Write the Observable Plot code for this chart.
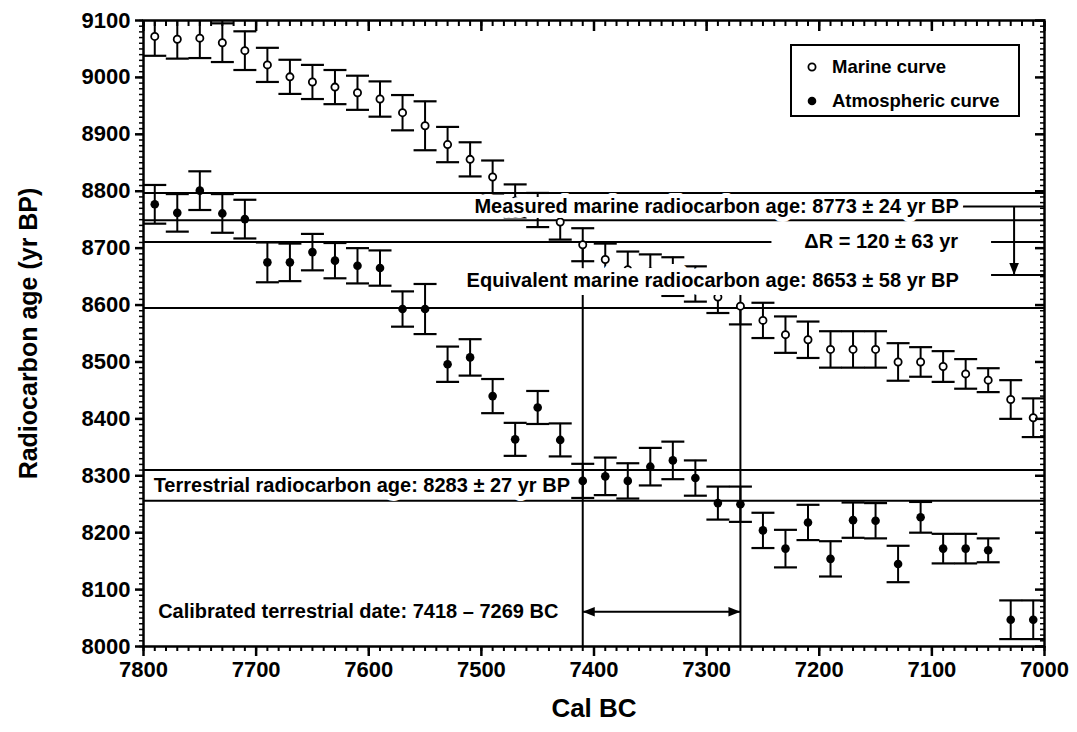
<!DOCTYPE html>
<html><head><meta charset="utf-8">
<script src="https://cdn.jsdelivr.net/npm/d3@7"></script>
<script src="https://cdn.jsdelivr.net/npm/@observablehq/plot@0.6"></script>
<style>
body{margin:0;background:#fff;}
#wrap{position:relative;width:1077px;height:732px;font-family:"Liberation Sans",Arial,Helvetica,sans-serif;}
#legend{position:absolute;left:790px;top:44px;width:230px;height:73px;border:2px solid #000;box-sizing:border-box;background:#fff;font-weight:bold;font-size:18.5px;color:#000;}
#legend .row{position:absolute;left:14px;display:flex;align-items:center;line-height:20px;}
#legend svg{margin-right:14px;}
</style></head><body><div id="wrap"></div>
<script>
// Data: calibrated years (Cal BC) of the curve points
const years = [7790,7770,7750,7730,7710,7690,7670,7650,7630,7610,7590,7570,7550,7530,7510,7490,7470,7450,7430,7410,7390,7370,7350,7330,7310,7290,7270,7250,7230,7210,7190,7170,7150,7130,7110,7090,7070,7050,7030,7010];
const marine = [9072,9067,9069,9061,9047,9022,9001,8992,8983,8973,8962,8938,8915,8882,8856,8825,8783,8767,8746,8706,8680,8662,8658,8650,8637,8614,8598,8573,8548,8539,8522,8522,8522,8500,8500,8492,8479,8468,8434,8402];
const marineErr = [34,34,35,34,34,30,30,30,30,30,31,31,43,31,30,29,29,30,31,29,28,32,31,34,31,28,32,31,32,32,32,32,32,33,26,27,26,21,34,34];
const atmos = [8777,8762,8801,8761,8751,8675,8675,8693,8678,8669,8665,8593,8593,8496,8508,8440,8364,8420,8363,8291,8299,8291,8316,8327,8296,8252,8250,8204,8172,8218,8154,8222,8221,8145,8227,8172,8172,8169,8047,8047];
const atmosErr = [34,33,34,34,34,35,33,32,31,31,31,31,44,31,32,30,29,29,29,30,33,31,33,33,31,29,31,31,33,31,31,31,31,32,27,26,26,21,34,34];

const xTicks = [7800,7700,7600,7500,7400,7300,7200,7100,7000];
const yTicks = [8000,8100,8200,8300,8400,8500,8600,8700,8800,8900,9000,9100];
const xMinor = d3.range(7000, 7801, 10);
const yMinor = d3.range(8000, 9101, 10);

// Annotation values
const fullLines = [8797, 8749, 8595, 8310, 8256];
const partialLines = [
  {y: 8711, x1: 7800, x2: 7242},
  {y: 8711, x1: 7047, x2: 7000},
  {y: 8773, x1: 7072, x2: 7000},
  {y: 8653, x1: 7047, x2: 7000}
];
const calLines = [{x: 7410, top: 8711}, {x: 7270, top: 8595}];
const calArrow = {x1: 7410, x2: 7270, y: 8061};
const deltaArrow = {x: 7027, y1: 8773, y2: 8653};
const labelMeasured = [{x: 7076, y: 8773, text: "Measured marine radiocarbon age: 8773 \u00b1 24 yr BP"}];
const labelEquivalent = [{x: 7076, y: 8643, text: "Equivalent marine radiocarbon age: 8653 \u00b1 58 yr BP"}];
const labelsMiddle = [{x: 7145, y: 8711, text: "\u0394R = 120 \u00b1 63 yr"}];
const labelsStart = [
  {x: 7791, y: 8283, text: "Terrestrial radiocarbon age: 8283 \u00b1 27 yr BP"},
  {x: 7787, y: 8061, text: "Calibrated terrestrial date: 7418 \u2013 7269 BC"}
];

const marineData = years.map((x, i) => ({x, y: marine[i], lo: marine[i] - marineErr[i], hi: marine[i] + marineErr[i]}));
const atmosData = years.map((x, i) => ({x, y: atmos[i], lo: atmos[i] - atmosErr[i], hi: atmos[i] + atmosErr[i]}));

const cap = {draw(ctx, size) { const r = Math.sqrt(size / Math.PI); ctx.moveTo(-r, 0); ctx.lineTo(r, 0); }};
const head = {draw(ctx, size) { const r = Math.sqrt(size / Math.PI); ctx.moveTo(0, 0); ctx.lineTo(-2 * r, -0.8 * r); ctx.lineTo(-2 * r, 0.8 * r); ctx.closePath(); }};

function errMarks(data) {
  return [
    Plot.ruleX(data, {x: "x", y1: "lo", y2: "hi", stroke: "black", strokeWidth: 2, clip: true}),
    Plot.dot(data, {x: "x", y: "hi", symbol: cap, r: 11.5, stroke: "black", fill: "none", strokeWidth: 2.2, clip: true}),
    Plot.dot(data, {x: "x", y: "lo", symbol: cap, r: 11.5, stroke: "black", fill: "none", strokeWidth: 2.2, clip: true})
  ];
}

const textOpts = {x: "x", y: "y", text: "text", fontSize: 20, fontWeight: "bold", fill: "black", stroke: "white", strokeWidth: 10};

const chart = Plot.plot({
  width: 1077,
  height: 732,
  marginLeft: 143,
  marginRight: 33,
  marginTop: 20,
  marginBottom: 86,
  x: {domain: [7800, 7000]},
  y: {domain: [8000, 9100]},
  style: {fontFamily: '"Liberation Sans", Arial, Helvetica, sans-serif', fontWeight: "bold", color: "black", background: "white"},
  marks: [
    // reference lines
    Plot.ruleY(fullLines, {stroke: "black", strokeWidth: 2}),
    Plot.ruleY(partialLines, {y: "y", x1: "x1", x2: "x2", stroke: "black", strokeWidth: 2}),
    Plot.ruleX(calLines, {x: "x", y1: 8000, y2: "top", stroke: "black", strokeWidth: 2}),
    // data
    ...errMarks(marineData),
    ...errMarks(atmosData),
    Plot.dot(marineData, {x: "x", y: "y", r: 3.6, fill: "white", stroke: "black", strokeWidth: 1.8}),
    Plot.dot(atmosData, {x: "x", y: "y", r: 4.3, fill: "black", stroke: "none"}),
    // annotation text with white box
    Plot.text(labelMeasured, {...textOpts, textAnchor: "end"}),
    Plot.text(labelEquivalent, {...textOpts, textAnchor: "end", strokeWidth: 16}),
    Plot.text(labelsMiddle, {...textOpts, textAnchor: "middle"}),
    Plot.text(labelsStart, {...textOpts, textAnchor: "start"}),
    // calibrated date arrow
    Plot.link([calArrow], {x1: "x1", x2: "x2", y1: "y", y2: "y", stroke: "black", strokeWidth: 2}),
    Plot.dot([calArrow], {x: "x2", y: "y", symbol: head, r: 6, fill: "black", stroke: "none", rotate: 0}),
    Plot.dot([calArrow], {x: "x1", y: "y", symbol: head, r: 6, fill: "black", stroke: "none", rotate: 180}),
    // delta R arrow
    Plot.link([deltaArrow], {x1: "x", x2: "x", y1: "y1", y2: "y2", stroke: "black", strokeWidth: 2}),
    Plot.dot([deltaArrow], {x: "x", y: "y2", symbol: head, r: 6, fill: "black", stroke: "none", rotate: 90}),
    // axes
    Plot.axisX(xMinor, {anchor: "bottom", tickSize: 5, text: null, strokeWidth: 2, label: null}),
    Plot.axisX(xTicks, {anchor: "bottom", tickSize: 10, strokeWidth: 2.5, fontSize: 22, fontWeight: "bold", tickPadding: 5, label: null, tickFormat: d => String(d)}),
    Plot.axisX(xMinor, {anchor: "top", tickSize: -5, text: null, strokeWidth: 2, label: null}),
    Plot.axisX(xTicks, {anchor: "top", tickSize: -10, text: null, strokeWidth: 2.5, label: null}),
    Plot.axisY(yMinor, {anchor: "left", tickSize: 4, text: null, strokeWidth: 1.5, label: null}),
    Plot.axisY(yTicks, {anchor: "left", tickSize: 8, strokeWidth: 2.5, fontSize: 22, fontWeight: "bold", tickPadding: 5, label: null, tickFormat: d => String(d)}),
    Plot.axisY(yMinor, {anchor: "right", tickSize: -5, text: null, strokeWidth: 1.5, label: null}),
    Plot.axisY(yTicks, {anchor: "right", tickSize: -10, text: null, strokeWidth: 2.5, label: null}),
    Plot.frame({stroke: "black", strokeWidth: 2.5}),
    // axis titles
    Plot.text(["Cal BC"], {frameAnchor: "bottom", textAnchor: "middle", dy: 70, fontSize: 26, fontWeight: "bold", fill: "black"}),
    Plot.text(["Radiocarbon age (yr BP)"], {frameAnchor: "left", textAnchor: "middle", dx: -115, rotate: -90, fontSize: 25, fontWeight: "bold", fill: "black"})
  ]
});

const wrap = document.getElementById("wrap");
wrap.appendChild(chart);
const legend = document.createElement("div");
legend.id = "legend";
legend.innerHTML = `
<div class="row" style="top:11px"><svg width="12" height="12"><circle cx="6" cy="6" r="3.6" fill="white" stroke="black" stroke-width="1.8"/></svg><span>Marine curve</span></div>
<div class="row" style="top:45px"><svg width="12" height="12"><circle cx="6" cy="6" r="4.3" fill="black"/></svg><span>Atmospheric curve</span></div>`;
wrap.appendChild(legend);
</script>
</body></html>
